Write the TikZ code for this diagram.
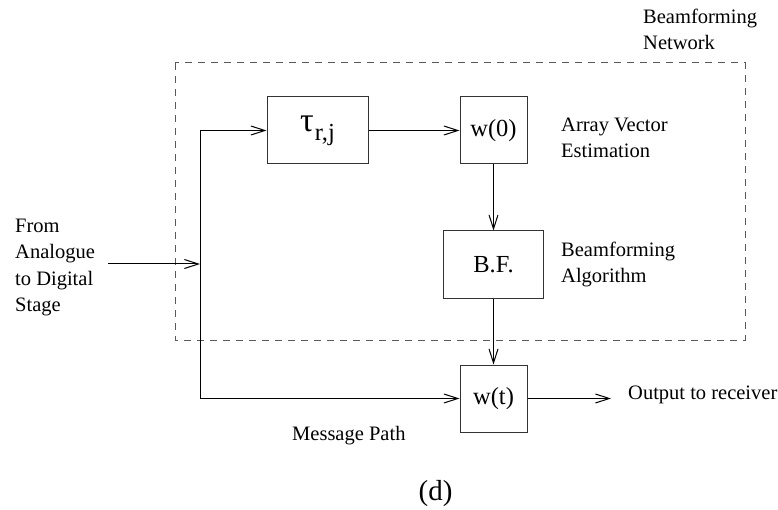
\documentclass[tikz,border=0pt]{standalone}
\usepackage{fontspec}
\setmainfont{Liberation Serif}
\usetikzlibrary{arrows.meta}
\begin{document}
\begin{tikzpicture}[x=1pt,y=-1pt,
  blk/.style={draw=black!80, line width=1pt, inner sep=0pt,
    font=\fontsize{24.5}{26}\selectfont},
  wire/.style={line width=1pt, -{Straight Barb[length=14pt,width=9pt,line width=1pt]}},
  lbl/.style={font=\fontsize{20.5}{26}\selectfont, inner sep=0pt, align=left, anchor=base west},
  frame/.style={draw=black!65, line width=1pt, dash pattern=on 7pt off 6pt}]
\useasboundingbox (0,0) rectangle (778,510);

% beamforming network boundary
\draw[frame] (175,63) rectangle (745,340);

% processing blocks
\node[blk, minimum width=101pt, minimum height=67pt] (tau) at (317.5,130.5)
  {{\fontsize{34}{34}\selectfont τ}\kern1pt\raisebox{-9pt}{r,j}};
\node[blk, minimum width=67pt, minimum height=67pt] (w0) at (493.5,130.5) {w(0)};
\node[blk, minimum width=100pt, minimum height=67pt] (bf) at (493.5,264.5) {B.F.};
\node[blk, minimum width=67pt, minimum height=67pt] (wt) at (493.5,398.5) {w(t)};

% signal paths
\coordinate (src) at (108,264);
\coordinate (jn) at (200,264);
\coordinate (out) at (611,398.5);
\draw[wire] (src) -- (jn);
\draw[wire] (jn) |- (tau.west);
\draw[wire] (jn) |- (wt.west);
\draw[wire] (tau) -- (w0);
\draw[wire] (w0) -- (bf);
\draw[wire] (bf) -- (wt);
\draw[wire] (wt) -- (out);

% labels (base anchor sits on the last line)
\node[lbl] (bfnet) at (643,50) {Beamforming\\Network};
\node[lbl] (from) at (15,311) {From\\Analogue\\to Digital\\Stage};
\node[lbl] (ave) at (561,158) {Array Vector\\Estimation};
\node[lbl] (bfa) at (561,283) {Beamforming\\Algorithm};
\node[lbl] (outl) at (628,399) {Output to receiver};
\node[lbl] (msg) at (292,440) {Message Path};
\node[inner sep=0pt, anchor=base, font=\fontsize{29}{30}\selectfont] (cap) at (435.5,500) {(d)};
\end{tikzpicture}
\end{document}
